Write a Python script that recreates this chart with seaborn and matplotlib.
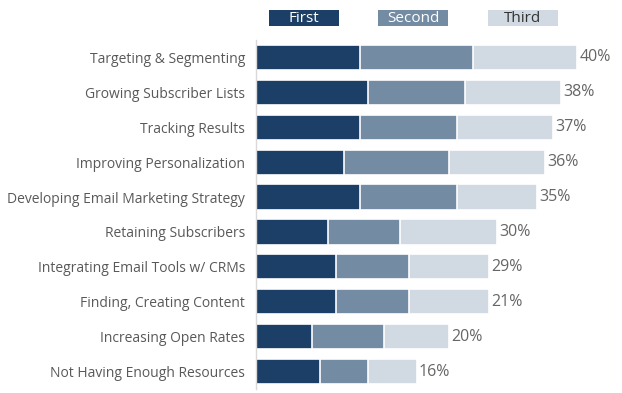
import matplotlib
matplotlib.use("Agg")
import matplotlib.pyplot as plt
import seaborn as sns
import pandas as pd
import numpy as np
from matplotlib.patches import Rectangle

categories = [
    "Targeting & Segmenting",
    "Growing Subscriber Lists",
    "Tracking Results",
    "Improving Personalization",
    "Developing Email Marketing Strategy",
    "Retaining Subscribers",
    "Integrating Email Tools w/ CRMs",
    "Finding, Creating Content",
    "Increasing Open Rates",
    "Not Having Enough Resources",
]
first = [13, 14, 13, 11, 13, 9, 10, 10, 7, 8]
second = [14, 12, 12, 13, 12, 9, 9, 9, 9, 6]
third = [13, 12, 12, 12, 10, 12, 10, 10, 8, 6]
total_labels = ["40%", "38%", "37%", "36%", "35%", "30%", "29%", "21%", "20%", "16%"]
series_names = ["First", "Second", "Third"]

colors = ["#1b3f66", "#738ca3", "#d1d9e2"]

sns.set_theme(style="white")
plt.rcParams["font.family"] = ["Open Sans", "DejaVu Sans"]

df = pd.DataFrame({"cat": categories, "first": first, "second": second, "third": third})
df["c1"] = df["first"]
df["c2"] = df["first"] + df["second"]
df["c3"] = df["c2"] + df["third"]

fig = plt.figure(figsize=(6.22, 3.93), dpi=100)
ax = fig.add_axes([256 / 622, 4 / 393, 1 - 256 / 622, (389 - 40) / 393])

for col, c in zip(["c3", "c2", "c1"], colors[::-1]):
    sns.barplot(data=df, y="cat", x=col, color=c, orient="h", ax=ax,
                width=0.72, edgecolor="white", linewidth=1.2, saturation=1)

ax.set_xlim(0, 45.6)
ax.set_xlabel("")
ax.set_ylabel("")
ax.set_xticks([])
for s in ["top", "right", "bottom"]:
    ax.spines[s].set_visible(False)
ax.spines["left"].set_color("#d9d9d9")
ax.spines["left"].set_linewidth(1)
ax.tick_params(axis="y", length=0, pad=8, labelsize=10, labelcolor="#595959")

for i, (tot, lab) in enumerate(zip(df["c3"], total_labels)):
    ax.text(tot + 0.3, i, lab, va="center", ha="left", fontsize=11.5, color="#666666")

# legend boxes
leg = [(269, 339), (378, 448), (488, 558)]
txtcol = ["white", "white", "#333333"]
for (x0, x1), name, c, tc in zip(leg, series_names, colors, txtcol):
    fig.patches.append(Rectangle((x0 / 622, 1 - 26 / 393), (x1 - x0) / 622, 16 / 393,
                                 transform=fig.transFigure, facecolor=c, edgecolor="none"))
    fig.text((x0 + x1) / 2 / 622, 1 - 18 / 393, name, ha="center", va="center",
             fontsize=11, color=tc)

fig.savefig("out.png", dpi=100)
